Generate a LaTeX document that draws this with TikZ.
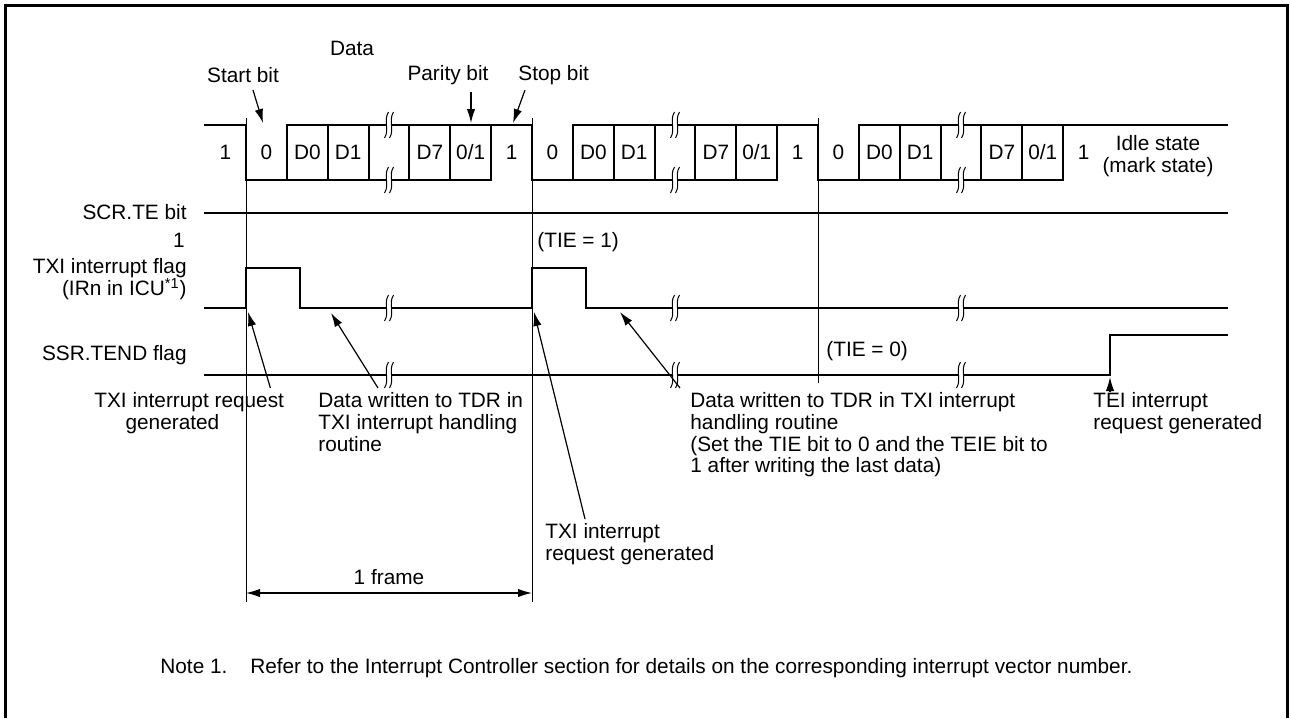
\documentclass[tikz,border=0pt]{standalone}
\usepackage{fontspec}
\setmainfont{Liberation Sans}
\usetikzlibrary{arrows.meta,positioning,calc}

\begin{document}
\begin{tikzpicture}[
    x=0.5pt, y=-0.5pt,
    font=\fontsize{10.4}{10.9}\selectfont,
    wave/.style={line width=1pt, line cap=rect},
    guide/.style={line width=0.5pt},
    arrow/.style={-{Latex[length=7pt,width=4.2pt]}, line width=0.6pt},
    span/.style={{Latex[length=7pt,width=4.2pt]}-{Latex[length=7pt,width=4.2pt]}, line width=0.6pt},
    txt/.style={inner sep=0pt, align=left},
    brk/.pic={
      \fill[white] (-0.5,-13) .. controls (-6,-4) and (1,4) .. (-4.5,13) -- (0.5,13) .. controls (6,4) and (-1,-4) .. (4.5,-13) -- cycle;
      \draw[guide] (-0.5,-13) .. controls (-6,-4) and (1,4) .. (-4.5,13);
      \draw[guide] (4.5,-13) .. controls (-1,-4) and (6,4) .. (0.5,13);
    },
]
    \useasboundingbox (0,0) rectangle (1290,718);
    \draw[line width=1.5pt] (5.5,718) -- (5.5,5.5) -- (1287.5,5.5) -- (1287.5,718);

    % frame markers
    \draw[guide] (246,118) -- (246,602);
    \draw[guide] (532,118) -- (532,602);
    \draw[guide] (818,118) -- (818,383);

    % transmit data
    \draw[wave] (205,125) -- (246,125);
    \node[txt] (idle) at (225.5,152) {1};
    \foreach \s/\f in {246/a,532/b,818/c} {
      \draw[wave] (\s,125) -- (\s,180) -- (\s+245.14,180);
      \draw[wave] (\s+40.857,125) -- (\s+286,125);
      \foreach \i in {1,...,6}
        \draw[wave] (\s+\i*40.857,125) -- (\s+\i*40.857,180);
      \pic at (\s+143,125) {brk};
      \pic at (\s+143,180) {brk};
      \node[txt] (start\f) at (\s+20.4,152) {0};
      \node[txt] (dzero\f) at (\s+61.3,152) {D0};
      \node[txt] (done\f) at (\s+102.1,152) {D1};
      \node[txt] (dseven\f) at (\s+183.9,152) {D7};
      \node[txt] (parity\f) at (\s+224.7,152) {0/1};
      \node[txt] (stop\f) at (\s+265.6,152) {1};
    }
    \draw[wave] (1104,125) -- (1227,125);
    \node[txt, align=center] (idlestate) at (1158,156) {Idle state\\(mark state)};

    % bit labels
    \node[txt] (datalbl) at (352,48) {Data};
    \node[txt] (startlbl) at (243,75) {Start bit};
    \node[txt] (paritylbl) at (448,75) {Parity bit};
    \node[txt, anchor=west] (stoplbl) at (518,75) {Stop bit};
    \coordinate (starttip) at (263,123);
    \coordinate (paritytip) at (471,123);
    \coordinate (stoptip) at (513,123);
    \draw[arrow] ($(startlbl.south)+(10,7)$) -- (starttip);
    \draw[arrow] ($(paritylbl.south)+(23,7)$) -- (paritytip);
    \draw[arrow] ($(stoplbl.south west)+(7,5)$) -- (stoptip);

    % signals
    \node[txt, anchor=east] (tebit) at (187,212) {SCR.TE bit};
    \node[txt, anchor=east] (teone) at (185,240) {1};
    \node[txt, anchor=east, align=right] (txiflag) at (187,279) {TXI interrupt flag\\(IRn in ICU\textsuperscript{*1})};
    \node[txt, anchor=east] (tendflag) at (187,355) {SSR.TEND flag};

    \draw[wave] (205,213) -- (1227,213);
    \draw[wave] (205,308) -- (246,308) -- (246,268) -- (300,268) -- (300,308) -- (532,308)
      -- (532,268) -- (586,268) -- (586,308) -- (1227,308);
    \draw[wave] (205,375) -- (1110,375) -- (1110,335) -- (1227,335);
    \foreach \x in {389,675,961} {
      \pic at (\x,308) {brk};
      \pic at (\x,375) {brk};
    }
    \node[txt, anchor=west] (tieone) at (537,242) {(TIE = 1)};
    \node[txt, anchor=west] (tiezero) at (826,351) {(TIE = 0)};

    % events
    \node[txt, anchor=north west] (reqa) at (94,392) {TXI interrupt request\\\hspace{1.5em}generated};
    \node[txt, anchor=north west] (wra) at (318,392) {Data written to TDR in\\TXI interrupt handling\\routine};
    \node[txt, anchor=north west] (reqb) at (545,523) {TXI interrupt\\request generated};
    \node[txt, anchor=north west] (wrb) at (690,392) {Data written to TDR in TXI interrupt\\handling routine\\(Set the TIE bit to 0 and the TEIE bit to\\1 after writing the last data)};
    \node[txt, anchor=north west] (teireq) at (1093,392) {TEI interrupt\\request generated};

    \coordinate (tipa) at (248,312);
    \coordinate (tipb) at (331,313);
    \coordinate (tipc) at (534,312);
    \coordinate (tipd) at (620,312);
    \coordinate (tipe) at (1110,377);
    \draw[arrow] ($(reqa.north east)+(-14,-4)$) -- (tipa);
    \draw[arrow] ($(wra.north west)+(60,-4)$) -- (tipb);
    \draw[arrow] ($(reqb.north west)+(40,-4)$) -- (tipc);
    \draw[arrow] ($(wrb.north west)+(-10,-4)$) -- (tipd);
    \draw[arrow] ($(teireq.north west)+(17,0)$) -- (tipe);

    % frame length
    \coordinate (fa) at (246,593);
    \coordinate (fb) at (532,593);
    \draw[span] (fa) -- node[above, inner sep=4pt] (framelbl) {1 frame} (fb);

    \node[txt, anchor=west] (note) at (160,668) {Note 1.\hspace{1.1em}Refer to the Interrupt Controller section for details on the corresponding interrupt vector number.};
\end{tikzpicture}
\end{document}
